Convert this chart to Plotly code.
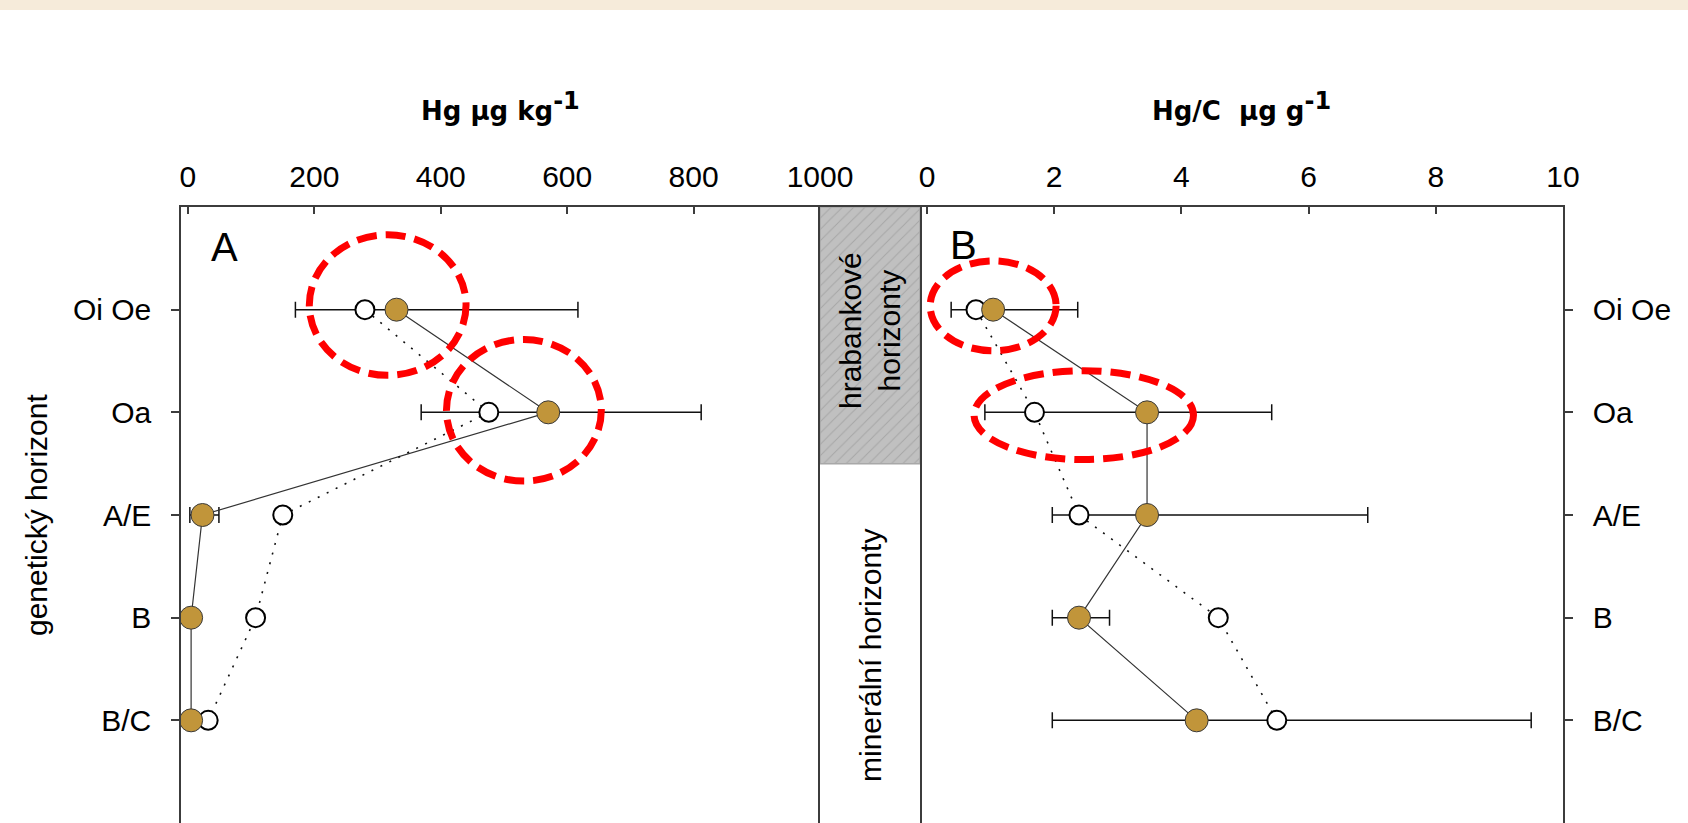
import plotly.graph_objects as go

# ---- data ----
horizons = ["Oi Oe", "Oa", "A/E", "B", "B/C"]
ypos = [1, 2, 3, 4, 5]

hg_filled = [330, 570, 23, 5, 5]
hg_err_plus = [287, 242, 26, 3, 3]
hg_err_minus = [160, 201, 20, 3, 3]
hg_open = [280, 476, 150, 107, 32]

hgc_filled = [1.04, 3.46, 3.46, 2.39, 4.24]
hgc_err_plus = [1.33, 1.96, 3.47, 0.48, 5.26]
hgc_err_minus = [0.66, 2.55, 1.49, 0.42, 2.27]
hgc_open = [0.77, 1.69, 2.39, 4.58, 5.50]

left_ticks = [0, 200, 400, 600, 800, 1000]
right_ticks = [0, 2, 4, 6, 8, 10]

FONT = "Liberation Sans, Arial, sans-serif"
BROWN = "#C1953A"
FRAME = "#3c3c3c"

fig = go.Figure()


def add_panel(xa, ya, filled, ep, em, opened):
    fig.add_trace(go.Scatter(
        x=filled, y=ypos, mode="lines", xaxis=xa, yaxis=ya,
        line=dict(color="#333333", width=1.2),
        error_x=dict(type="data", symmetric=False, array=ep, arrayminus=em,
                     color="#111111", thickness=1.5, width=8),
        showlegend=False, hoverinfo="skip"))
    fig.add_trace(go.Scatter(
        x=opened, y=ypos, mode="lines+markers", xaxis=xa, yaxis=ya,
        line=dict(color="#111111", width=1.6, dash="2px,8px"),
        marker=dict(symbol="circle", size=19, color="white",
                    line=dict(color="black", width=2)),
        showlegend=False))
    fig.add_trace(go.Scatter(
        x=filled, y=ypos, mode="markers", xaxis=xa, yaxis=ya,
        marker=dict(symbol="circle", size=23, color=BROWN,
                    line=dict(color="#3a3a3a", width=1)),
        showlegend=False))


add_panel("x", "y", hg_filled, hg_err_plus, hg_err_minus, hg_open)
add_panel("x2", "y2", hgc_filled, hgc_err_plus, hgc_err_minus, hgc_open)

# hatched box in the middle column
fig.add_trace(go.Scatter(
    x=[0, 1, 1, 0, 0], y=[0, 0, 2.5, 2.5, 0], xaxis="x3", yaxis="y3",
    mode="lines", fill="toself", fillcolor="#C0C0C0",
    fillpattern=dict(shape="/", bgcolor="#C0C0C0", fgcolor="#8c8c8c",
                     size=8, solidity=0.12),
    line=dict(color="#a8a8a8", width=1.5),
    showlegend=False, hoverinfo="skip"))

W, H = 1688, 823
L, R, T, B = 181, 125, 207, 0
pw = W - L - R
ph = H - T - B


def px_x(p):
    return (p - L) / pw


def px_y(p):
    return (H - B - p) / ph


d_left = [0, px_x(820)]
d_mid = [px_x(820), px_x(920)]
d_right = [px_x(920), 1]

tickfont = dict(family=FONT, size=30, color="black")

common_x = dict(side="top", showline=True, linecolor=FRAME, linewidth=1.5,
                ticks="inside", ticklen=7, tickcolor=FRAME, tickwidth=1.5,
                showgrid=False, zeroline=False, tickfont=tickfont,
                ticklabelstandoff=6)

fig.update_layout(
    width=W, height=H,
    margin=dict(l=L, r=R, t=T, b=B, pad=0),
    paper_bgcolor="white", plot_bgcolor="white",
    showlegend=False,
    xaxis=dict(domain=d_left, range=[-11, 1000], tickvals=left_ticks,
               anchor="y", **common_x),
    xaxis2=dict(domain=d_right, range=[-0.11, 10], tickvals=right_ticks,
                anchor="y2", **common_x),
    xaxis3=dict(domain=d_mid, range=[0, 1], side="top", showline=True,
                linecolor=FRAME, linewidth=1.5, showticklabels=False,
                ticks="", showgrid=False, zeroline=False, anchor="y3"),
    yaxis=dict(domain=[0, 1], range=[6, 0], tickvals=ypos, ticktext=horizons,
               showline=True, linecolor=FRAME, linewidth=1.5, ticks="outside",
               ticklen=8, tickcolor=FRAME, tickwidth=1.5, showgrid=False,
               zeroline=False, tickfont=tickfont, anchor="x",
               ticklabelstandoff=14),
    yaxis2=dict(domain=[0, 1], range=[6, 0], tickvals=ypos, ticktext=horizons,
                side="right", showline=True, linecolor=FRAME, linewidth=1.5,
                ticks="outside", ticklen=8, tickcolor=FRAME, tickwidth=1.5,
                showgrid=False, zeroline=False, tickfont=tickfont,
                anchor="x2", ticklabelstandoff=14),
    yaxis3=dict(domain=[0, 1], range=[6, 0], showline=True, mirror=True,
                linecolor=FRAME, linewidth=1.5, showticklabels=False,
                ticks="", showgrid=False, zeroline=False, anchor="x3"),
)

# red dashed ellipses
red = dict(color="#FF0000", width=7, dash="20px,9px")
ellipses = [
    ("x", "y", 192, 440, 0.27, 1.64),
    ("x", "y", 409, 654, 1.29, 2.67),
    ("x2", "y2", 0.05, 2.03, 0.525, 1.40),
    ("x2", "y2", 0.74, 4.19, 1.595, 2.46),
]
for xr, yr, x0, x1, y0, y1 in ellipses:
    fig.add_shape(type="circle", xref=xr, yref=yr, x0=x0, x1=x1, y0=y0, y1=y1,
                  line=red, layer="above")

# beige band at top
fig.add_shape(type="rect", xref="paper", yref="paper",
              x0=px_x(0), x1=px_x(W), y0=px_y(10), y1=px_y(0),
              fillcolor="#F6EBDA", line=dict(width=0), layer="below")

txt = dict(family=FONT, size=30, color="black")
sup = '<sup><span style="font-size:24px">-1</span></sup>'
ann = [
    dict(text="A", x=px_x(224), y=px_y(247), font=dict(family=FONT, size=40, color="black")),
    dict(text="B", x=px_x(963), y=px_y(245), font=dict(family=FONT, size=40, color="black")),
    dict(text="genetický horizont", x=px_x(36), y=px_y(515), textangle=-90, font=txt),
    dict(text="hrabankové<br>horizonty", x=px_x(870), y=px_y(331), textangle=-90, font=txt),
    dict(text="minerální horizonty", x=px_x(870), y=px_y(656), textangle=-90, font=txt),
    dict(text="<b>Hg μg kg" + sup + "</b>", x=px_x(500), y=px_y(106),
         font=dict(family="DejaVu Sans", size=26, color="black")),
    dict(text="<b>Hg/C  μg g" + sup + "</b>", x=px_x(1241), y=px_y(106),
         font=dict(family="DejaVu Sans", size=26, color="black")),
]
for a in ann:
    fig.add_annotation(xref="paper", yref="paper", showarrow=False,
                       xanchor="center", yanchor="middle", **a)

fig.write_html("out.html", config={"displayModeBar": False})
